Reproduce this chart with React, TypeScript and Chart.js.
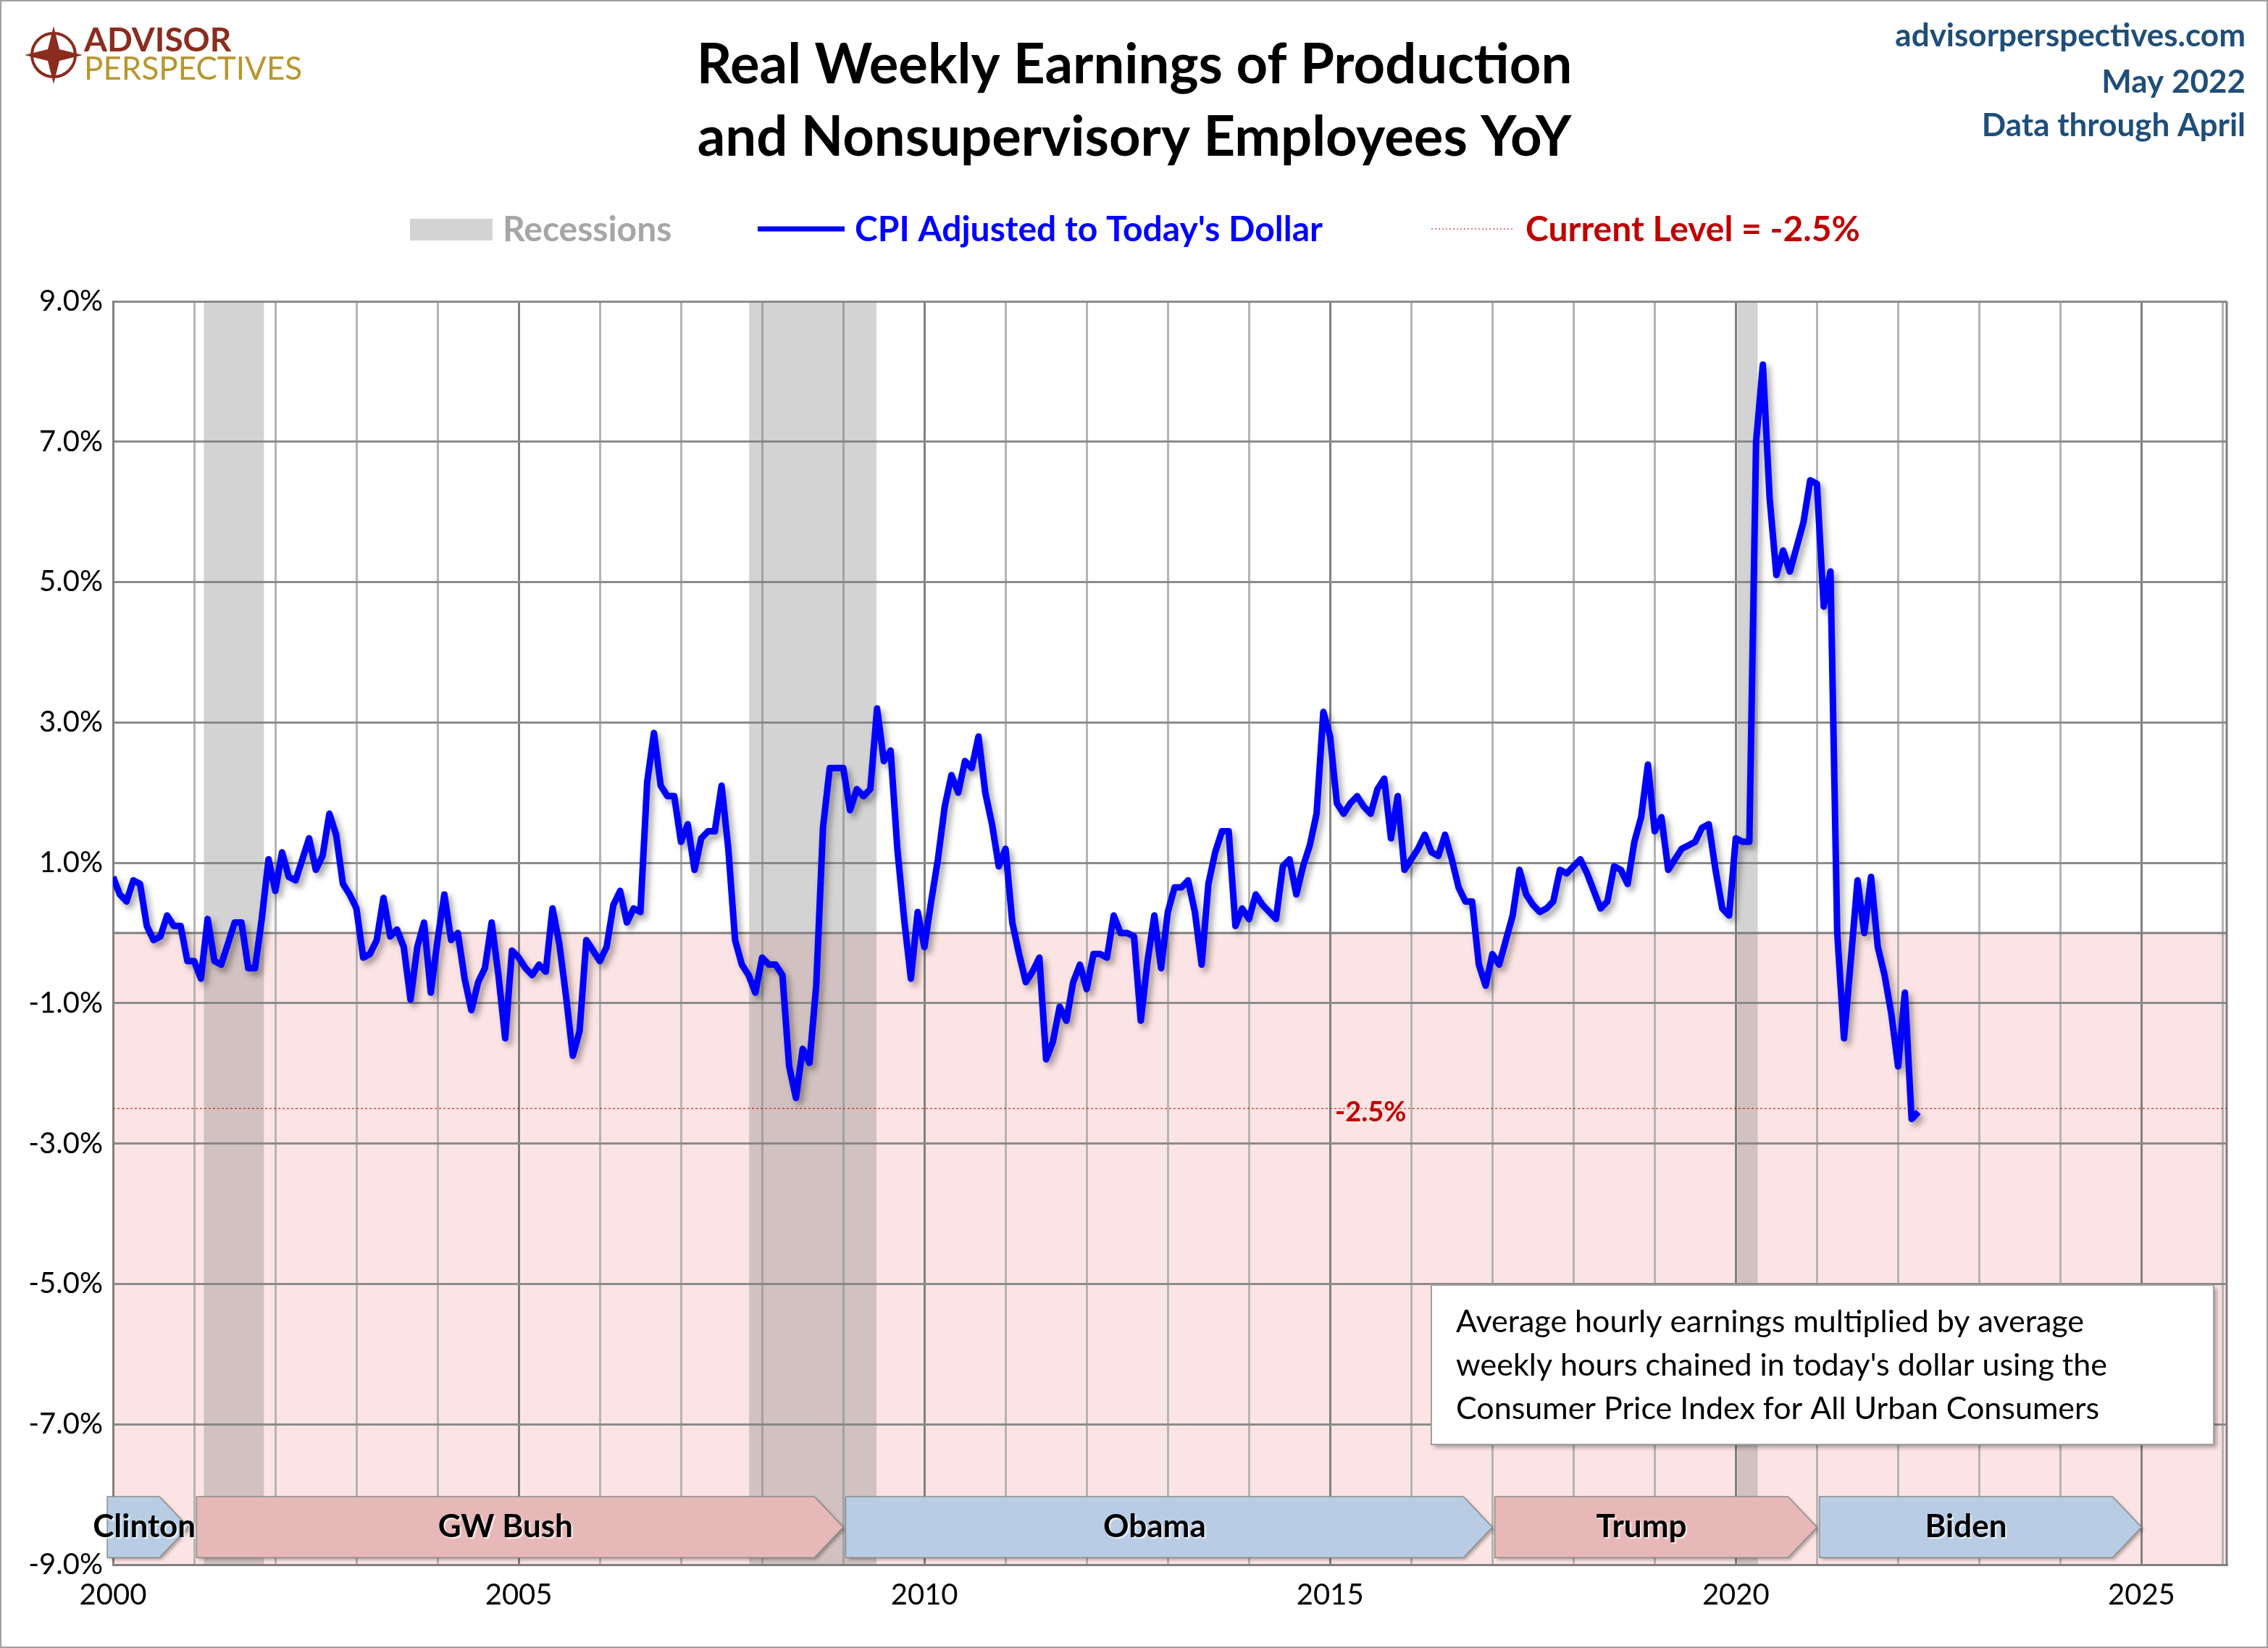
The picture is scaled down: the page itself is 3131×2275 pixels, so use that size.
import React, { useEffect, useRef } from "react";
import { Chart, registerables } from "chart.js";
Chart.register(...registerables);

const startYear = 2000;
const values: number[] = [
  // 2000
  0.8, 0.55, 0.45, 0.75, 0.7, 0.1, -0.1, -0.05, 0.25, 0.1, 0.1, -0.4,
  // 2001
  -0.4, -0.65, 0.2, -0.4, -0.45, -0.15, 0.15, 0.15, -0.5, -0.5, 0.2, 1.05,
  // 2002
  0.6, 1.15, 0.8, 0.75, 1.05, 1.35, 0.9, 1.1, 1.7, 1.4, 0.7, 0.55,
  // 2003
  0.35, -0.35, -0.3, -0.1, 0.5, -0.05, 0.05, -0.2, -0.95, -0.2, 0.15, -0.85,
  // 2004
  -0.1, 0.55, -0.1, 0.0, -0.65, -1.1, -0.7, -0.5, 0.15, -0.6, -1.5, -0.25,
  // 2005
  -0.35, -0.5, -0.6, -0.45, -0.55, 0.35, -0.15, -0.9, -1.75, -1.4, -0.1, -0.25,
  // 2006
  -0.4, -0.2, 0.4, 0.6, 0.15, 0.35, 0.3, 2.15, 2.85, 2.1, 1.95, 1.95,
  // 2007
  1.3, 1.55, 0.9, 1.35, 1.45, 1.45, 2.1, 1.2, -0.1, -0.45, -0.6, -0.85,
  // 2008
  -0.35, -0.45, -0.45, -0.6, -1.9, -2.35, -1.65, -1.85, -0.75, 1.5, 2.35, 2.35,
  // 2009
  2.35, 1.75, 2.05, 1.95, 2.05, 3.2, 2.45, 2.6, 1.2, 0.2, -0.65, 0.3,
  // 2010
  -0.2, 0.45, 1.05, 1.8, 2.25, 2.0, 2.45, 2.35, 2.8, 2.0, 1.55, 0.95,
  // 2011
  1.2, 0.15, -0.3, -0.7, -0.55, -0.35, -1.8, -1.55, -1.05, -1.25, -0.7, -0.45,
  // 2012
  -0.8, -0.3, -0.3, -0.35, 0.25, 0.0, 0.0, -0.05, -1.25, -0.4, 0.25, -0.5,
  // 2013
  0.3, 0.65, 0.65, 0.75, 0.3, -0.45, 0.7, 1.15, 1.45, 1.45, 0.1, 0.35,
  // 2014
  0.2, 0.55, 0.4, 0.3, 0.2, 0.95, 1.05, 0.55, 0.95, 1.25, 1.7, 3.15,
  // 2015
  2.8, 1.85, 1.7, 1.85, 1.95, 1.8, 1.7, 2.05, 2.2, 1.35, 1.95, 0.9,
  // 2016
  1.05, 1.2, 1.4, 1.15, 1.1, 1.4, 1.05, 0.65, 0.45, 0.45, -0.45, -0.75,
  // 2017
  -0.3, -0.45, -0.1, 0.25, 0.9, 0.55, 0.4, 0.3, 0.35, 0.45, 0.9, 0.85,
  // 2018
  0.95, 1.05, 0.85, 0.6, 0.35, 0.45, 0.95, 0.9, 0.7, 1.3, 1.65, 2.4,
  // 2019
  1.45, 1.65, 0.9, 1.05, 1.2, 1.25, 1.3, 1.5, 1.55, 0.9, 0.35, 0.25,
  // 2020
  1.35, 1.3, 1.3, 7.0, 8.1, 6.2, 5.1, 5.45, 5.15, 5.5, 5.85, 6.45,
  // 2021
  6.4, 4.65, 5.15, 0.0, -1.5, -0.4, 0.75, 0.0, 0.8, -0.2, -0.6, -1.15,
  // 2022
  -1.9, -0.85, -2.65, -2.55,
];
const currentLevel = -2.5;
const recessions: [number, number][] = [
  [2001.12, 2001.86],
  [2007.84, 2009.41],
  [2020.02, 2020.27],
];
const presidents: { name: string; start: number; end: number; party: string }[] = [
  { name: "Clinton", start: 1999.93, end: 2000.93, party: "D" },
  { name: "GW Bush", start: 2001.03, end: 2009.0, party: "R" },
  { name: "Obama", start: 2009.03, end: 2017.0, party: "D" },
  { name: "Trump", start: 2017.03, end: 2021.0, party: "R" },
  { name: "Biden", start: 2021.03, end: 2025.0, party: "D" },
];
const yTicks = [-9, -7, -5, -3, -1, 1, 3, 5, 7, 9];
const xTicks = Array.from({ length: 27 }, (_, i) => 2000 + i);
const noteLines = [
  "Average hourly earnings multiplied by average",
  "weekly hours chained in today's dollar using the",
  "Consumer Price Index for All Urban Consumers",
];

const FONT = "Lato, 'Open Sans', sans-serif";

const decor = {
  id: "decor",
  beforeDraw(chart: any) {
    const { ctx, chartArea: a, scales } = chart;
    const y = scales.y;
    ctx.save();
    ctx.fillStyle = "#fff";
    ctx.fillRect(0, 0, chart.width, chart.height);
    const y0 = y.getPixelForValue(0);
    ctx.fillStyle = "#fde4e4";
    ctx.fillRect(a.left, y0, a.right - a.left, a.bottom - y0);
    ctx.restore();
  },
  beforeDatasetsDraw(chart: any) {
    const { ctx, chartArea: a, scales } = chart;
    const x = scales.x, y = scales.y;
    ctx.save();
    ctx.fillStyle = "rgba(128,128,128,0.35)";
    for (const [s, e] of recessions) {
      const p1 = x.getPixelForValue(s), p2 = x.getPixelForValue(e);
      ctx.fillRect(p1, a.top, p2 - p1, a.bottom - a.top);
    }
    const y0 = y.getPixelForValue(0);
    ctx.strokeStyle = "#7f7f7f";
    ctx.lineWidth = 3;
    ctx.beginPath();
    ctx.moveTo(a.left, y0); ctx.lineTo(a.right, y0);
    ctx.moveTo(a.right, a.top); ctx.lineTo(a.right, a.bottom);
    ctx.stroke();
    const yc = y.getPixelForValue(currentLevel);
    ctx.strokeStyle = "#c00000";
    ctx.lineWidth = 1;
    ctx.setLineDash([3, 3]);
    ctx.beginPath(); ctx.moveTo(a.left, yc); ctx.lineTo(a.right, yc); ctx.stroke();
    ctx.setLineDash([]);
    ctx.fillStyle = "#c00000";
    ctx.font = `bold 38px ${FONT}`;
    ctx.textAlign = "center";
    ctx.textBaseline = "middle";
    ctx.fillText("-2.5%", x.getPixelForValue(2015.5), yc + 6);
    const top = y.getPixelForValue(-8.03), bot = y.getPixelForValue(-8.9);
    const mid = (top + bot) / 2;
    for (const p of presidents) {
      const xs = x.getPixelForValue(p.start), xe = x.getPixelForValue(p.end);
      const head = 40;
      ctx.beginPath();
      ctx.moveTo(xs, top); ctx.lineTo(xe - head, top); ctx.lineTo(xe, mid);
      ctx.lineTo(xe - head, bot); ctx.lineTo(xs, bot); ctx.closePath();
      ctx.fillStyle = p.party === "R" ? "#e6b8b7" : "#b8cce4";
      ctx.shadowColor = "rgba(0,0,0,0.3)"; ctx.shadowOffsetX = 3; ctx.shadowOffsetY = 3; ctx.shadowBlur = 4;
      ctx.fill();
      ctx.shadowColor = "transparent";
      ctx.strokeStyle = "#8c8c8c"; ctx.lineWidth = 1.5; ctx.stroke();
      ctx.fillStyle = "#000";
      ctx.font = `bold 44px ${FONT}`;
      ctx.shadowColor = "rgba(255,255,255,0.8)"; ctx.shadowOffsetX = 2; ctx.shadowOffsetY = 2; ctx.shadowBlur = 2;
      const cx = p.name === "Clinton" ? (xs + xe) / 2 - 5 : (xs + xe - head) / 2;
      ctx.fillText(p.name, cx, mid);
      ctx.shadowColor = "transparent";
    }
    ctx.restore();
    ctx.save();
    ctx.shadowColor = "rgba(0,0,0,0.35)";
    ctx.shadowBlur = 8; ctx.shadowOffsetX = 5; ctx.shadowOffsetY = 6;
  },
  afterDatasetsDraw(chart: any) {
    chart.ctx.restore();
  },
  afterDraw(chart: any) {
    const { ctx } = chart;
    ctx.save();
    ctx.fillStyle = "#fff";
    ctx.shadowColor = "rgba(0,0,0,0.35)"; ctx.shadowBlur = 6; ctx.shadowOffsetX = 4; ctx.shadowOffsetY = 4;
    ctx.fillRect(1976, 1774, 1080, 220);
    ctx.shadowColor = "transparent";
    ctx.strokeStyle = "#a0a0a0"; ctx.lineWidth = 2;
    ctx.strokeRect(1976, 1774, 1080, 220);
    ctx.fillStyle = "#000"; ctx.font = `43px ${FONT}`;
    ctx.textAlign = "left"; ctx.textBaseline = "middle";
    noteLines.forEach((t, i) => ctx.fillText(t, 2010, 1825 + i * 60));
    ctx.textAlign = "center";
    ctx.font = `bold 76px ${FONT}`;
    ctx.fillText("Real Weekly Earnings of Production", 1566, 90);
    ctx.fillText("and Nonsupervisory Employees YoY", 1566, 190);
    ctx.textAlign = "right"; ctx.fillStyle = "#1f4e79";
    ctx.font = `bold 44px ${FONT}`;
    ctx.fillText("advisorperspectives.com", 3100, 50);
    ctx.fillText("May 2022", 3100, 114);
    ctx.fillText("Data through April", 3100, 174);
    ctx.textAlign = "left";
    ctx.font = `bold 48px ${FONT}`;
    ctx.fillStyle = "#d3d3d3"; ctx.fillRect(566, 302, 114, 30);
    ctx.fillStyle = "#a6a6a6"; ctx.fillText("Recessions", 694, 318);
    ctx.strokeStyle = "#0000ff"; ctx.lineWidth = 7;
    ctx.beginPath(); ctx.moveTo(1046, 316); ctx.lineTo(1166, 316); ctx.stroke();
    ctx.fillStyle = "#0000ff"; ctx.fillText("CPI Adjusted to Today's Dollar", 1180, 318);
    ctx.strokeStyle = "#c00000"; ctx.lineWidth = 1; ctx.setLineDash([2, 3]);
    ctx.beginPath(); ctx.moveTo(1976, 316); ctx.lineTo(2090, 316); ctx.stroke();
    ctx.setLineDash([]);
    ctx.fillStyle = "#c00000"; ctx.fillText("Current Level = -2.5%", 2106, 318);
    ctx.beginPath(); ctx.arc(74, 76, 30, 0, Math.PI * 2);
    ctx.strokeStyle = "#8b2d1e"; ctx.lineWidth = 4; ctx.stroke();
    ctx.fillStyle = "#8b2d1e";
    ctx.beginPath();
    ctx.moveTo(74, 36); ctx.lineTo(82, 68); ctx.lineTo(114, 76); ctx.lineTo(82, 84);
    ctx.lineTo(74, 116); ctx.lineTo(66, 84); ctx.lineTo(34, 76); ctx.lineTo(66, 68); ctx.closePath();
    ctx.fill();
    ctx.font = `bold 46px ${FONT}`; ctx.fillStyle = "#8b2d1e";
    ctx.fillText("ADVISOR", 116, 56);
    ctx.font = `44px ${FONT}`; ctx.fillStyle = "#b8962e";
    ctx.fillText("PERSPECTIVES", 116, 96);
    ctx.strokeStyle = "#a0a0a0"; ctx.lineWidth = 2;
    ctx.strokeRect(1, 1, chart.width - 2, chart.height - 2);
    ctx.restore();
  },
};

export default function App() {
  const ref = useRef<HTMLCanvasElement>(null);
  useEffect(() => {
    document.body.style.margin = "0";
    const data = values.map((v, i) => ({ x: startYear + i / 12, y: v }));
    const chart = new Chart(ref.current!, {
      type: "line",
      data: {
        datasets: [{
          data, borderColor: "#0000ff", borderWidth: 9, pointRadius: 0,
          tension: 0, fill: false, borderJoinStyle: "round" as any,
        }],
      },
      options: {
        animation: false, responsive: false, devicePixelRatio: 1,
        layout: { padding: { top: 416, right: 57, left: 0, bottom: 0 } },
        plugins: { legend: { display: false }, tooltip: { enabled: false } },
        scales: {
          x: {
            type: "linear", min: 2000, max: 2026.05,
            afterBuildTicks: (ax: any) => { ax.ticks = xTicks.map((v) => ({ value: v })); },
            afterFit: (ax: any) => { ax.height = 115; },
            ticks: {
              autoSkip: false, maxRotation: 0, color: "#000", padding: 18,
              font: { size: 40, family: FONT },
              callback: (v: any) => (Number(v) % 5 === 0 ? String(v) : ""),
            },
            grid: {
              color: (c: any) => (c.tick && c.tick.value % 5 === 0 ? "#808080" : "#b4b4b4"),
              lineWidth: 3, drawTicks: false,
            },
            border: { display: true, color: "#808080", width: 3 },
          },
          y: {
            min: -9, max: 9,
            afterBuildTicks: (ax: any) => { ax.ticks = yTicks.map((v) => ({ value: v })); },
            afterFit: (ax: any) => { ax.width = 156; },
            ticks: {
              color: "#000", padding: 14, font: { size: 40, family: FONT },
              callback: (v: any) => Number(v).toFixed(1) + "%",
            },
            grid: { color: "#8c8c8c", lineWidth: 3, drawTicks: false },
            border: { display: true, color: "#808080", width: 3 },
          },
        },
      },
      plugins: [decor],
    });
    return () => chart.destroy();
  }, []);
  return <canvas ref={ref} width={3131} height={2275} style={{ display: "block" }} />;
}
